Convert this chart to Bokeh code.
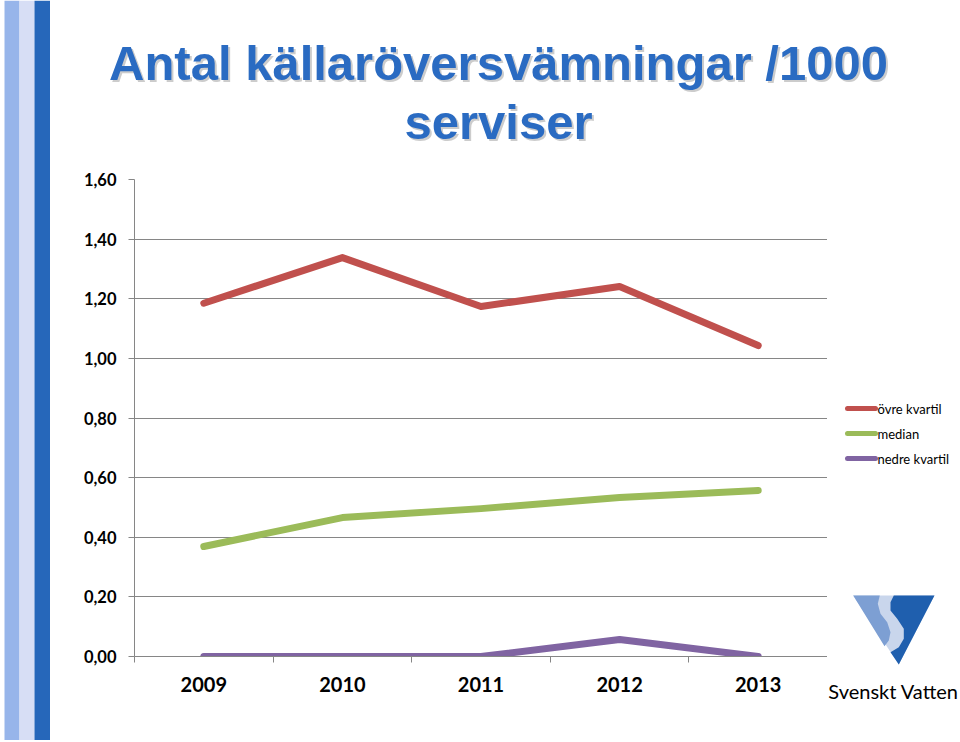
from bokeh.plotting import figure
from bokeh.layouts import row, column
from bokeh.models import Range1d, FixedTicker, CustomJSTickFormatter
from bokeh.core.properties import value
from bokeh.embed import file_html
from bokeh.resources import INLINE

# ---------------- data ----------------
years = ["2009", "2010", "2011", "2012", "2013"]
ovre_kvartil = [1.185, 1.338, 1.174, 1.241, 1.043]
median = [0.369, 0.466, 0.496, 0.533, 0.557]
nedre_kvartil = [0.0, 0.0, 0.0, 0.057, 0.0]
series_names = ["övre kvartil", "median", "nedre kvartil"]
series_colors = ["#c0504d", "#9bbb59", "#8064a2"]
y_ticks = [0.0, 0.2, 0.4, 0.6, 0.8, 1.0, 1.2, 1.4, 1.6]
title_lines = ["Antal källaröversvämningar /1000", "serviser"]
logo_text = "Svenskt Vatten"

GRAY = "#868686"


def blank(w, h, xr, yr):
    f = figure(width=w, height=h, x_range=xr, y_range=yr, output_backend="svg",
               toolbar_location=None, min_border=0, x_axis_location=None,
               y_axis_location=None, outline_line_color=None,
               background_fill_color="white", border_fill_color="white")
    f.grid.visible = False
    f.frame_align = False
    return f


# ---------------- left stripes (page x 0..50) ----------------
stripes = blank(50, 740, Range1d(0, 50), Range1d(0, 740))
stripes.quad(left=[4, 19, 34], right=[19, 34, 50], bottom=[0, 0, 0], top=[740, 740, 740],
             fill_color=["#97b5ea", "#d7def5", "#2667ba"], line_color=None)

# ---------------- title (page x 50..958, y 0..163) ----------------
title_fig = blank(908, 163, Range1d(0, 908), Range1d(163, 0))
ty = [62, 121]
tx = [448, 448]
title_fig.text(x=[v + 2 for v in tx], y=[v + 2 for v in ty], text=title_lines,
               text_font=value("Liberation Sans"), text_font_style="bold",
               text_font_size="49px", text_align="center", text_baseline="alphabetic",
               text_color="#9a9a9a", text_alpha=0.5)
title_fig.text(x=tx, y=ty, text=title_lines,
               text_font=value("Liberation Sans"), text_font_style="bold",
               text_font_size="49px", text_align="center", text_baseline="alphabetic",
               text_color="#2a6bc2")

# ---------------- chart (page x 50..827, y 163..740) ----------------
xpos = list(range(len(years)))
chart = figure(width=777, height=577, x_range=Range1d(-0.5, len(years) - 0.5),
               y_range=Range1d(0, 1.6), output_backend="svg", toolbar_location=None,
               min_border_left=84, min_border_right=0, min_border_top=16,
               min_border_bottom=84, outline_line_color=None,
               background_fill_color="white", border_fill_color="white")
chart.frame_align = False

for vals, col in zip([ovre_kvartil, median, nedre_kvartil], series_colors):
    chart.line(x=xpos, y=vals, line_color=col, line_width=7, line_cap="round",
               line_join="round")

chart.xaxis.ticker = FixedTicker(ticks=xpos, minor_ticks=[i - 0.5 for i in range(len(years) + 1)])
chart.xaxis.major_label_overrides = {i: y for i, y in enumerate(years)}
chart.xaxis.major_tick_out = 0
chart.xaxis.major_tick_in = 0
chart.xaxis.minor_tick_out = 6
chart.xaxis.minor_tick_in = 0
chart.xaxis.minor_tick_line_color = GRAY
chart.xaxis.axis_line_color = GRAY
chart.xaxis.major_label_text_font = "Lato"
chart.xaxis.major_label_text_font_style = "bold"
chart.xaxis.major_label_text_font_size = "20px"
chart.xaxis.major_label_text_color = "black"
chart.xaxis.major_label_standoff = 14
chart.xgrid.visible = False

chart.yaxis.ticker = FixedTicker(ticks=y_ticks)
chart.yaxis.formatter = CustomJSTickFormatter(code="return tick.toFixed(2).replace('.', ',');")
chart.yaxis.major_tick_out = 6
chart.yaxis.major_tick_in = 0
chart.yaxis.minor_tick_line_color = None
chart.yaxis.major_tick_line_color = GRAY
chart.yaxis.axis_line_color = GRAY
chart.yaxis.major_label_text_font = "Lato"
chart.yaxis.major_label_text_font_style = "bold"
chart.yaxis.major_label_text_font_size = "16.5px"
chart.yaxis.major_label_text_color = "black"
chart.yaxis.major_label_standoff = 12
chart.ygrid.grid_line_color = GRAY
chart.ygrid.grid_line_width = 1

# ---------------- side: legend + logo (page x 827..958, y 163..740) ----------------
side = blank(131, 577, Range1d(0, 131), Range1d(577, 0))
n = len(series_names)
ly = [245 + 25 * i for i in range(n)]
side.segment(x0=[20] * n, x1=[48] * n, y0=ly, y1=ly, line_color=series_colors,
             line_width=5, line_cap="round")
side.text(x=[50] * n, y=ly, text=series_names, text_font=value("Lato"),
          text_font_size="13px", text_baseline="middle", text_align="left",
          text_color="black")

# logo (decoration), coordinates in side-figure pixels (page - (827,163))
def P(pts):
    return [p[0] - 827 for p in pts], [p[1] - 163 for p in pts]

tri = [(852.7, 595), (934, 595), (898.3, 664)]
leftp = [(852.7, 595), (879.3, 595), (877.3, 603.3), (880, 613.3), (886.7, 621.7),
         (890, 631.7), (888.3, 640), (884, 645.7)]
darkp = [(893.3, 595), (934, 595), (898.3, 664), (890, 651.7), (898.3, 646.7),
         (903.3, 638.3), (903.3, 628.3), (896.7, 618.3), (890, 610), (890, 601.7)]
for pts, col in [(tri, "#c9d6ec"), (leftp, "#7d9fd3"), (darkp, "#1f5fae")]:
    xs, ys = P(pts)
    side.patch(x=xs, y=ys, fill_color=col, line_color=None)

side.text(x=[66], y=[690 - 163], text=[logo_text], text_font=value("Lato"),
          text_font_size="20px", text_align="center", text_baseline="alphabetic",
          text_color="black")

layout = row(stripes, column(title_fig, row(chart, side)))

open("out.html", "w").write(file_html(layout, INLINE))
